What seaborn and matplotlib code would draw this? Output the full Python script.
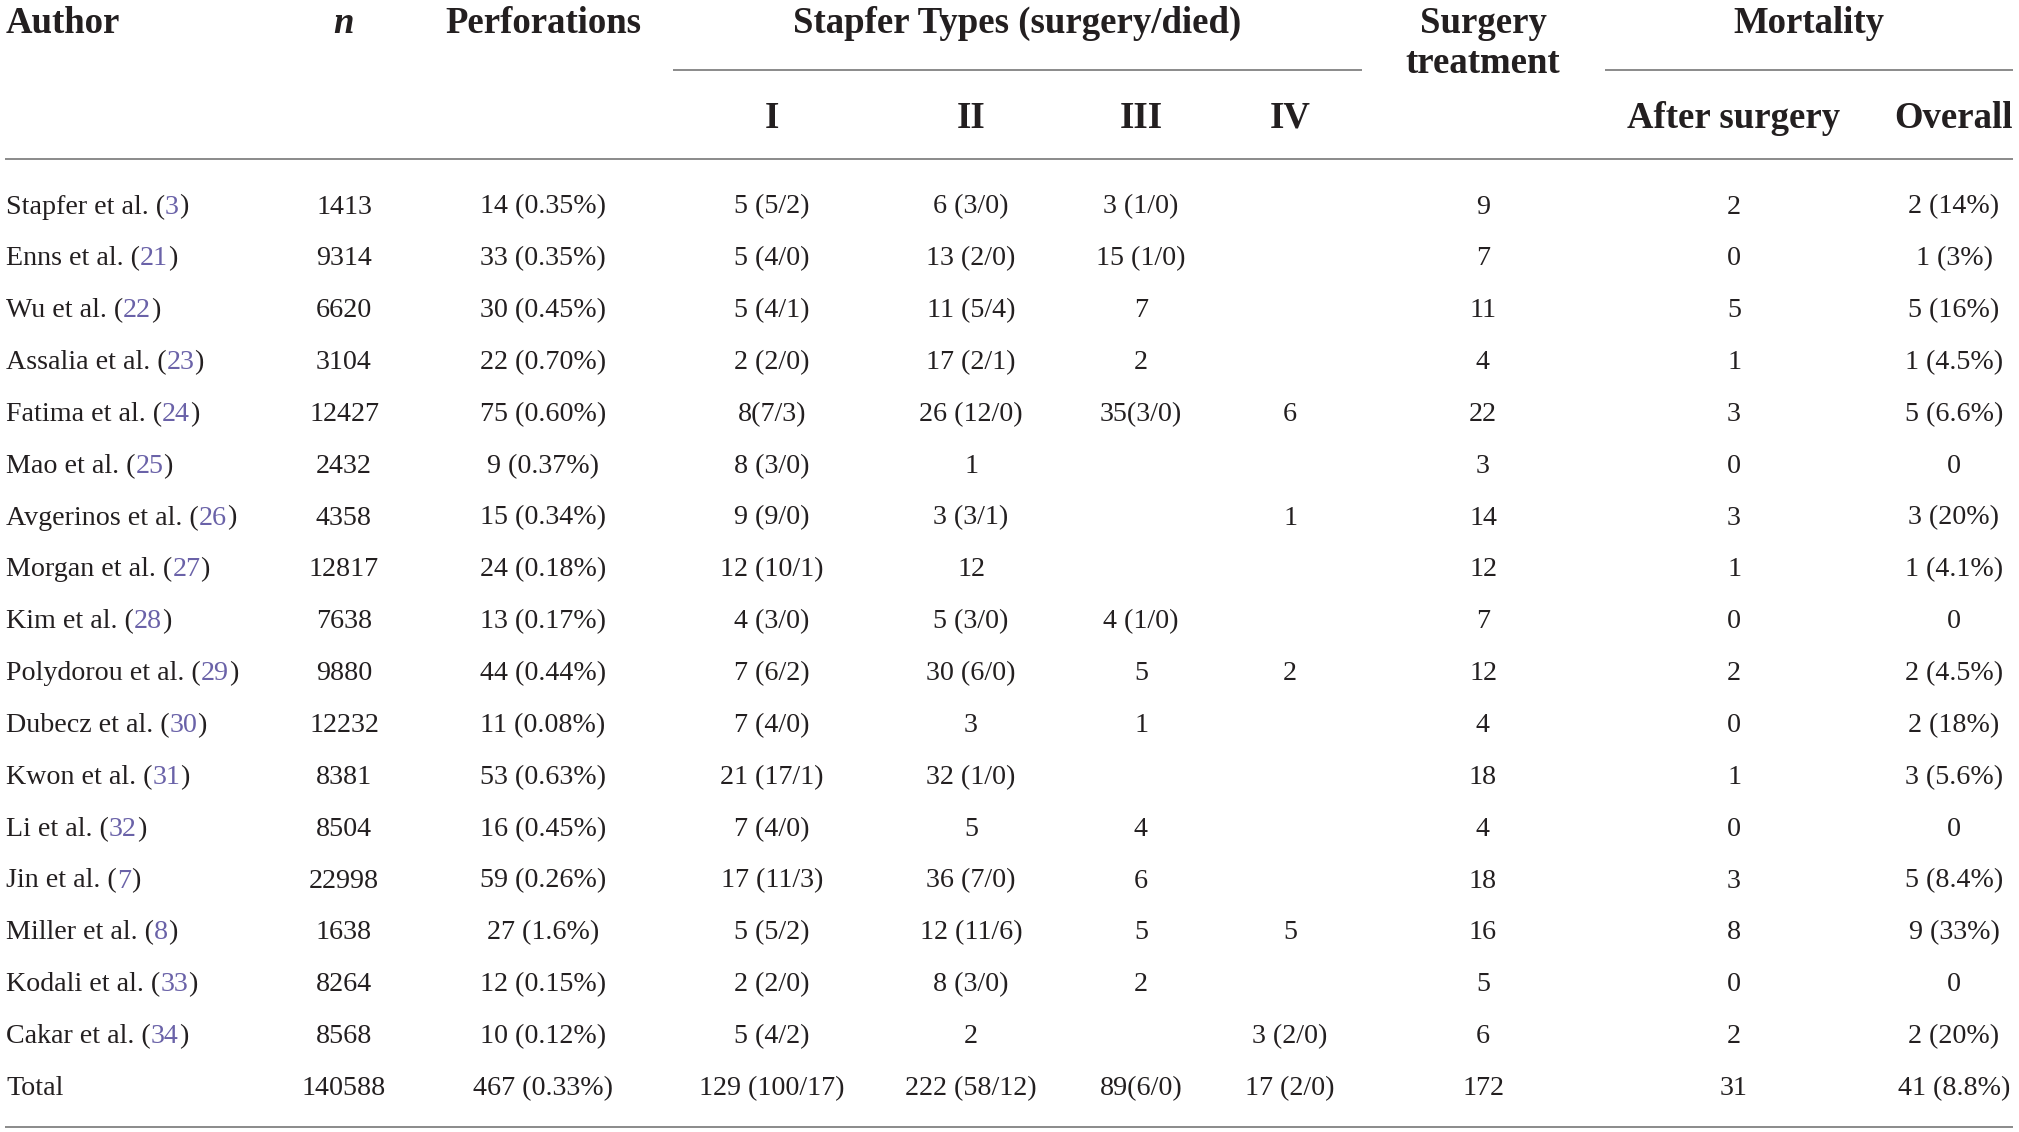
import matplotlib
matplotlib.use("Agg")
import matplotlib.pyplot as plt
import seaborn as sns

authors = ["Stapfer et al.", "Enns et al.", "Wu et al.", "Assalia et al.", "Fatima et al.",
           "Mao et al.", "Avgerinos et al.", "Morgan et al.", "Kim et al.", "Polydorou et al.",
           "Dubecz et al.", "Kwon et al.", "Li et al.", "Jin et al.", "Miller et al.",
           "Kodali et al.", "Cakar et al."]
refs = [3, 21, 22, 23, 24, 25, 26, 27, 28, 29, 30, 31, 32, 7, 8, 33, 34]
n_patients = [1413, 9314, 6620, 3104, 12427, 2432, 4358, 12817, 7638, 9880,
              12232, 8381, 8504, 22998, 1638, 8264, 8568]
perforations = ["14 (0.35%)", "33 (0.35%)", "30 (0.45%)", "22 (0.70%)", "75 (0.60%)",
                "9 (0.37%)", "15 (0.34%)", "24 (0.18%)", "13 (0.17%)", "44 (0.44%)",
                "11 (0.08%)", "53 (0.63%)", "16 (0.45%)", "59 (0.26%)", "27 (1.6%)",
                "12 (0.15%)", "10 (0.12%)"]
type_I = ["5 (5/2)", "5 (4/0)", "5 (4/1)", "2 (2/0)", "8(7/3)", "8 (3/0)", "9 (9/0)",
          "12 (10/1)", "4 (3/0)", "7 (6/2)", "7 (4/0)", "21 (17/1)", "7 (4/0)",
          "17 (11/3)", "5 (5/2)", "2 (2/0)", "5 (4/2)"]
type_II = ["6 (3/0)", "13 (2/0)", "11 (5/4)", "17 (2/1)", "26 (12/0)", "1", "3 (3/1)",
           "12", "5 (3/0)", "30 (6/0)", "3", "32 (1/0)", "5", "36 (7/0)", "12 (11/6)",
           "8 (3/0)", "2"]
type_III = ["3 (1/0)", "15 (1/0)", "7", "2", "35(3/0)", "", "", "", "4 (1/0)", "5", "1",
            "", "4", "6", "5", "2", ""]
type_IV = ["", "", "", "", "6", "", "1", "", "", "2", "", "", "", "", "5", "", "3 (2/0)"]
surgery = [9, 7, 11, 4, 22, 3, 14, 12, 7, 12, 4, 18, 4, 18, 16, 5, 6]
after_surgery = [2, 0, 5, 1, 3, 0, 3, 1, 0, 2, 0, 1, 0, 3, 8, 0, 2]
overall = ["2 (14%)", "1 (3%)", "5 (16%)", "1 (4.5%)", "5 (6.6%)", "0", "3 (20%)",
           "1 (4.1%)", "0", "2 (4.5%)", "2 (18%)", "3 (5.6%)", "0", "5 (8.4%)",
           "9 (33%)", "0", "2 (20%)"]
total_row = ["Total", "140588", "467 (0.33%)", "129 (100/17)", "222 (58/12)", "89(6/0)",
             "17 (2/0)", "172", "31", "41 (8.8%)"]
sub_headers = ["I", "II", "III", "IV"]

# layout (pixels)
col_x = [6, 344, 543, 772, 971, 1141, 1290, 1483, 1734, 1954]
row0, row_step = 213.5, 51.85
ink = "#231f20"
link = "#6a62a8"
rule = "#8a8a8a"

sns.set_theme(style="white")
plt.rcParams["font.family"] = ["Liberation Serif", "DejaVu Serif"]

fig = plt.figure(figsize=(20.19, 11.32), dpi=100)
ax = fig.add_axes([0, 0, 1, 1])
ax.set_xlim(0, 2019)
ax.set_ylim(1132, 0)
ax.axis("off")

body = dict(fontsize=20.2, color=ink, va="baseline")
head = dict(fontsize=26.5, color=ink, va="baseline", fontweight="bold")

# header
ax.text(col_x[0], 33, "Author", ha="left", **head)
ax.text(col_x[1], 33, "n", ha="center", fontstyle="italic", **head)
ax.text(col_x[2], 33, "Perforations", ha="center", **head)
ax.text(1017, 33, "Stapfer Types (surgery/died)", ha="center", **head)
ax.text(col_x[7], 33, "Surgery", ha="center", **head)
ax.text(col_x[7], 73, "treatment", ha="center", **head)
ax.text(1809, 33, "Mortality", ha="center", **head)
for x, lab in zip(col_x[3:7], sub_headers):
    ax.text(x, 128, lab, ha="center", **head)
ax.text(col_x[8], 128, "After surgery", ha="center", **head)
ax.text(col_x[9], 128, "Overall", ha="center", **head)

ax.plot([673, 1362], [70, 70], color=rule, lw=1.4, solid_capstyle="butt")
ax.plot([1605, 2013], [70, 70], color=rule, lw=1.4, solid_capstyle="butt")
ax.plot([5, 2013], [159, 159], color=rule, lw=1.4, solid_capstyle="butt")
ax.plot([5, 2013], [1127, 1127], color=rule, lw=1.4, solid_capstyle="butt")

# body rows
for i, name in enumerate(authors):
    y = row0 + i * row_step
    t1 = ax.text(col_x[0], y, name + " (", ha="left", **body)
    t2 = ax.annotate(str(refs[i]), xy=(1, 0), xycoords=t1, ha="left", va="bottom",
                     fontsize=20.2, color=link)
    ax.annotate(")", xy=(1, 0), xycoords=t2, ha="left", va="bottom",
                fontsize=20.2, color=ink)
    cells = [str(n_patients[i]), perforations[i], type_I[i], type_II[i], type_III[i],
             type_IV[i], str(surgery[i]), str(after_surgery[i]), overall[i]]
    for x, c in zip(col_x[1:], cells):
        if c:
            ax.text(x, y, c, ha="center", **body)

y = row0 + len(authors) * row_step
ax.text(col_x[0], y, total_row[0], ha="left", **body)
for x, c in zip(col_x[1:], total_row[1:]):
    ax.text(x, y, c, ha="center", **body)

fig.savefig("out.png", dpi=100, facecolor="white")
